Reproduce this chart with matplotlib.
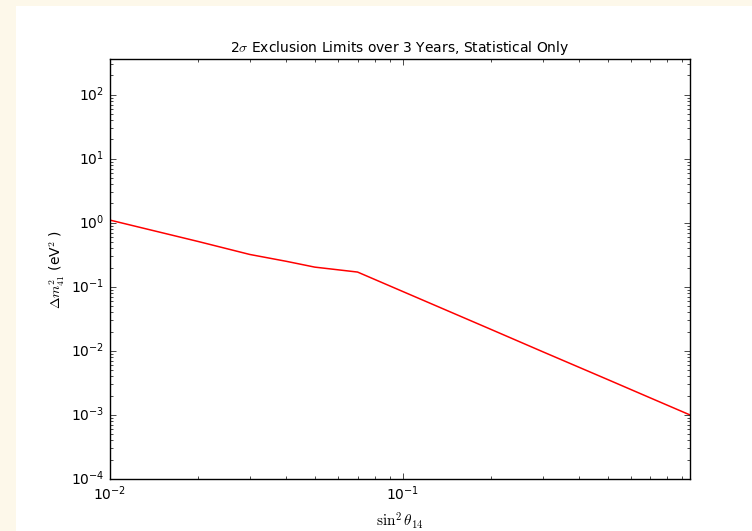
import matplotlib
matplotlib.use('Agg')
import matplotlib.pyplot as plt
import matplotlib.patches as mpatches

plt.style.use('classic')

# Exclusion contour
sin2_theta = [0.01, 0.02, 0.03, 0.04, 0.05, 0.07, 0.1, 0.2, 0.3, 0.5, 0.7, 0.95]
dm2 = [1.1, 0.51, 0.32, 0.25, 0.203, 0.17, 0.0843, 0.0216, 0.0097, 0.00357, 0.00184, 0.00101]

fig = plt.figure(figsize=(7.52, 5.31), dpi=100, facecolor='#fdf8ea')
# white page area (cream strip left and top like the screenshot)
fig.patches.append(mpatches.Rectangle((16 / 752, 0), 1 - 16 / 752, 525 / 531,
                                      transform=fig.transFigure, facecolor='white',
                                      edgecolor='none', zorder=-1))

ax = fig.add_axes([110 / 752, 52 / 531, 580 / 752, 420 / 531])
ax.plot(sin2_theta, dm2, 'r-', lw=1.1)
ax.set_xscale('log')
ax.set_yscale('log')
ax.set_xlim(0.01, 0.955)
ax.set_ylim(1e-4, 360)

ax.set_title(r'2$\sigma$ Exclusion Limits over 3 Years, Statistical Only', fontsize=10, pad=5)
ax.set_xlabel(r'$\sin^2\theta_{14}$', fontsize=11, labelpad=5)
ax.set_ylabel(r'$\Delta m^2_{41}$ (eV$^2$ )', fontsize=10, labelpad=3)
ax.tick_params(labelsize=10)

fig.savefig('out.png', dpi=100, facecolor=fig.get_facecolor())
